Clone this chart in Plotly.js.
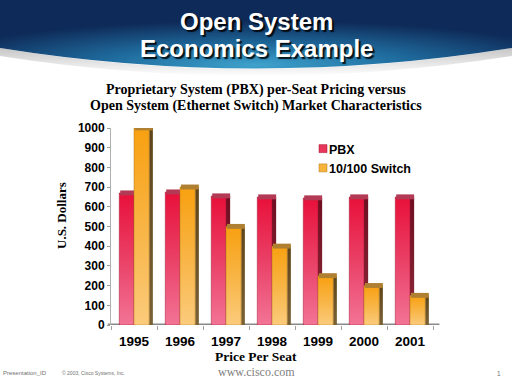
<!DOCTYPE html>
<html>
<head>
<meta charset="utf-8">
<script src="https://cdn.plot.ly/plotly-3.0.1.min.js"></script>
<style>
  html, body { margin: 0; padding: 0; background: #ffffff; }
  #chart { width: 512px; height: 384px; }
</style>
</head>
<body>
<div id="chart"></div>
<script>
// ---- data ----
const years = ['1995', '1996', '1997', '1998', '1999', '2000', '2001'];
const pbxPrice = [670, 675, 655, 650, 645, 650, 650];
const switchPrice = [1000, 700, 500, 400, 250, 200, 150];
const yTickVals = [0, 100, 200, 300, 400, 500, 600, 700, 800, 900, 1000];
const seriesNames = ['PBX', '10/100 Switch'];

// ---- style helpers ----
const W = 512, H = 384;
const capH = 25, capSink = 12;
const SANS = 'Liberation Sans, Arial, sans-serif';
const SERIF = 'Liberation Serif, Times New Roman, serif';

function barTrace(vals, opts) {
  return Object.assign({
    type: 'bar',
    x: years,
    y: vals,
    marker: { line: { width: 0 } },
    showlegend: false,
    hoverinfo: 'skip',
    cliponaxis: false
  }, opts);
}
function capTrace(vals, opts) {
  return barTrace(vals.map(() => capH), Object.assign({ base: vals.map(v => v - capSink) }, opts));
}

const data = [
  // PBX: side, front, cap
  barTrace(pbxPrice, { offset: 0, width: 0.09, marker: { color: '#7a1428' } }),
  barTrace(pbxPrice, { name: seriesNames[0], offset: -0.32, width: 0.32, showlegend: true,
    marker: { color: '#e8375a', line: { width: 0.5, color: '#a01030' } } }),
  capTrace(pbxPrice, { offset: -0.30, width: 0.39, marker: { color: '#b23a55' } }),
  // Switch: side, front, cap
  barTrace(switchPrice, { offset: 0.33, width: 0.08, marker: { color: '#6a5226' } }),
  barTrace(switchPrice, { name: seriesNames[1], offset: 0, width: 0.33, showlegend: true,
    marker: { color: '#f8b43a', line: { width: 0.5, color: '#b07818' } } }),
  capTrace(switchPrice, { offset: 0.02, width: 0.39, marker: { color: '#b08032' } })
];

const px = x => x / W;
const py = y => 1 - y / H;

const headerSvg =
  '<svg xmlns="http://www.w3.org/2000/svg" width="512" height="90" viewBox="0 0 512 90" preserveAspectRatio="none">' +
  '<defs><radialGradient id="hg" cx="50%" cy="95%" r="65%" fx="50%" fy="95%">' +
  '<stop offset="0" stop-color="#3ea2cc"/><stop offset="0.45" stop-color="#1f6c9e"/>' +
  '<stop offset="1" stop-color="#0e2a58"/></radialGradient>' +
  '<linearGradient id="sh" x1="0" y1="0" x2="0" y2="1"><stop offset="0" stop-color="#b8b8b8"/><stop offset="1" stop-color="#ffffff"/></linearGradient></defs>' +
  '<path d="M0,48 Q256,90 512,48 L512,56 Q256,96 0,56 Z" fill="url(#sh)" opacity="0.8"/>' +
  '<path d="M0,0 H512 V48 Q256,89 0,48 Z" fill="url(#hg)"/>' +
  '</svg>';

function ann(text, x, y, font, extra) {
  return Object.assign({ text: text, x: px(x), y: py(y), xref: 'paper', yref: 'paper',
    showarrow: false, xanchor: 'center', yanchor: 'middle', font: font }, extra || {});
}

const titleFont = { family: SANS, size: 24, color: '#ffffff', weight: 'bold', shadow: '2px 2px 1px rgba(0,0,0,0.85)' };
const subFont = { family: SERIF, size: 14, color: '#000000', weight: 'bold' };

const layout = {
  width: W, height: H,
  margin: { l: 0, r: 0, t: 0, b: 0, pad: 0 },
  paper_bgcolor: '#ffffff',
  plot_bgcolor: 'rgba(0,0,0,0)',
  barmode: 'overlay',
  showlegend: true,
  legend: {
    x: px(289), y: py(134), xanchor: 'left', yanchor: 'top',
    bgcolor: 'rgba(0,0,0,0)', borderwidth: 0,
    font: { family: SANS, size: 12.5, color: '#000000', weight: 'bold' },
    tracegroupgap: 0
  },
  xaxis: {
    domain: [px(111), px(433)],
    type: 'category',
    showgrid: false, zeroline: false, showline: false,
    ticks: 'outside', tickson: 'boundaries', ticklen: 4, tickcolor: '#a0a0a0', tickwidth: 1,
    ticklabelstandoff: 6,
    tickfont: { family: SANS, size: 13.5, color: '#000000', weight: 'bold' },
    fixedrange: true
  },
  yaxis: {
    domain: [py(325), py(128)],
    range: [0, 1000],
    tickvals: yTickVals,
    showgrid: false, zeroline: false,
    showline: true, linecolor: '#b0b0b0', linewidth: 1,
    ticks: 'outside', ticklen: 3, tickcolor: '#a0a0a0',
    tickfont: { family: SANS, size: 12, color: '#000000', weight: 'bold' },
    fixedrange: true
  },
  shapes: [
    { type: 'line', xref: 'x domain', yref: 'y', x0: -0.01, x1: 1.02, y0: 0, y1: 0,
      line: { color: '#8a8a8a', width: 3 }, layer: 'below' }
  ],
  images: [{
    source: 'data:image/svg+xml;charset=utf-8,' + encodeURIComponent(headerSvg),
    xref: 'paper', yref: 'paper', x: 0, y: 1, sizex: 1, sizey: 90 / H,
    xanchor: 'left', yanchor: 'top', sizing: 'stretch', layer: 'below'
  }],
  annotations: [
    ann('Open System', 256, 21, titleFont),
    ann('Economics Example', 256, 48, titleFont),
    ann('Proprietary System (PBX) per-Seat Pricing versus', 256, 90, subFont),
    ann('Open System (Ethernet Switch) Market Characteristics', 256, 106, subFont),
    ann('U.S. Dollars', 61, 216, { family: SERIF, size: 13, color: '#000000', weight: 'bold' }, { textangle: -90 }),
    ann('Price Per Seat', 256, 356, { family: SERIF, size: 13.5, color: '#000000', weight: 'bold' }),
    ann('www.cisco.com', 256, 372, { family: SERIF, size: 12, color: '#808080' }),
    ann('Presentation_ID', 25, 373, { family: SANS, size: 6, color: '#707070' }),
    ann('© 2003, Cisco Systems, Inc.', 93, 373, { family: SANS, size: 5, color: '#707070' }),
    ann('1', 499, 373, { family: SANS, size: 6.5, color: '#707070' })
  ]
};

const config = { displayModeBar: false, staticPlot: true, responsive: false };

function addGradients(gd) {
  const svg = gd.querySelector('svg.main-svg');
  const ns = 'http://www.w3.org/2000/svg';
  let defs = svg.querySelector('defs');
  if (!defs) { defs = document.createElementNS(ns, 'defs'); svg.insertBefore(defs, svg.firstChild); }
  function grad(id, stops) {
    const g = document.createElementNS(ns, 'linearGradient');
    g.setAttribute('id', id);
    g.setAttribute('x1', '0'); g.setAttribute('y1', '0');
    g.setAttribute('x2', '0'); g.setAttribute('y2', '1');
    stops.forEach(s => {
      const st = document.createElementNS(ns, 'stop');
      st.setAttribute('offset', s[0]);
      st.setAttribute('stop-color', s[1]);
      g.appendChild(st);
    });
    defs.appendChild(g);
  }
  grad('gPbx', [[0, '#e8103a'], [0.5, '#ea4066'], [1, '#f27496']]);
  grad('gSw', [[0, '#f8a010'], [0.5, '#f8b444'], [1, '#fbcb7c']]);
  grad('gPbxSide', [[0, '#6e0e20'], [1, '#8a2a3a']]);
  grad('gSwSide', [[0, '#5e4418'], [1, '#7a6236']]);
  const traces = gd.querySelectorAll('.barlayer .trace');
  const fills = ['url(#gPbxSide)', 'url(#gPbx)', null, 'url(#gSwSide)', 'url(#gSw)', null];
  traces.forEach((t, i) => {
    if (!fills[i]) return;
    t.querySelectorAll('path').forEach(p => { p.style.fill = fills[i]; });
  });
  gd.querySelectorAll('.legend .legendpoints path').forEach(p => {
    p.setAttribute('d', 'M18,4H10V-4H18Z');
  });
}

Plotly.newPlot('chart', data, layout, config).then(addGradients);
</script>
</body>
</html>
